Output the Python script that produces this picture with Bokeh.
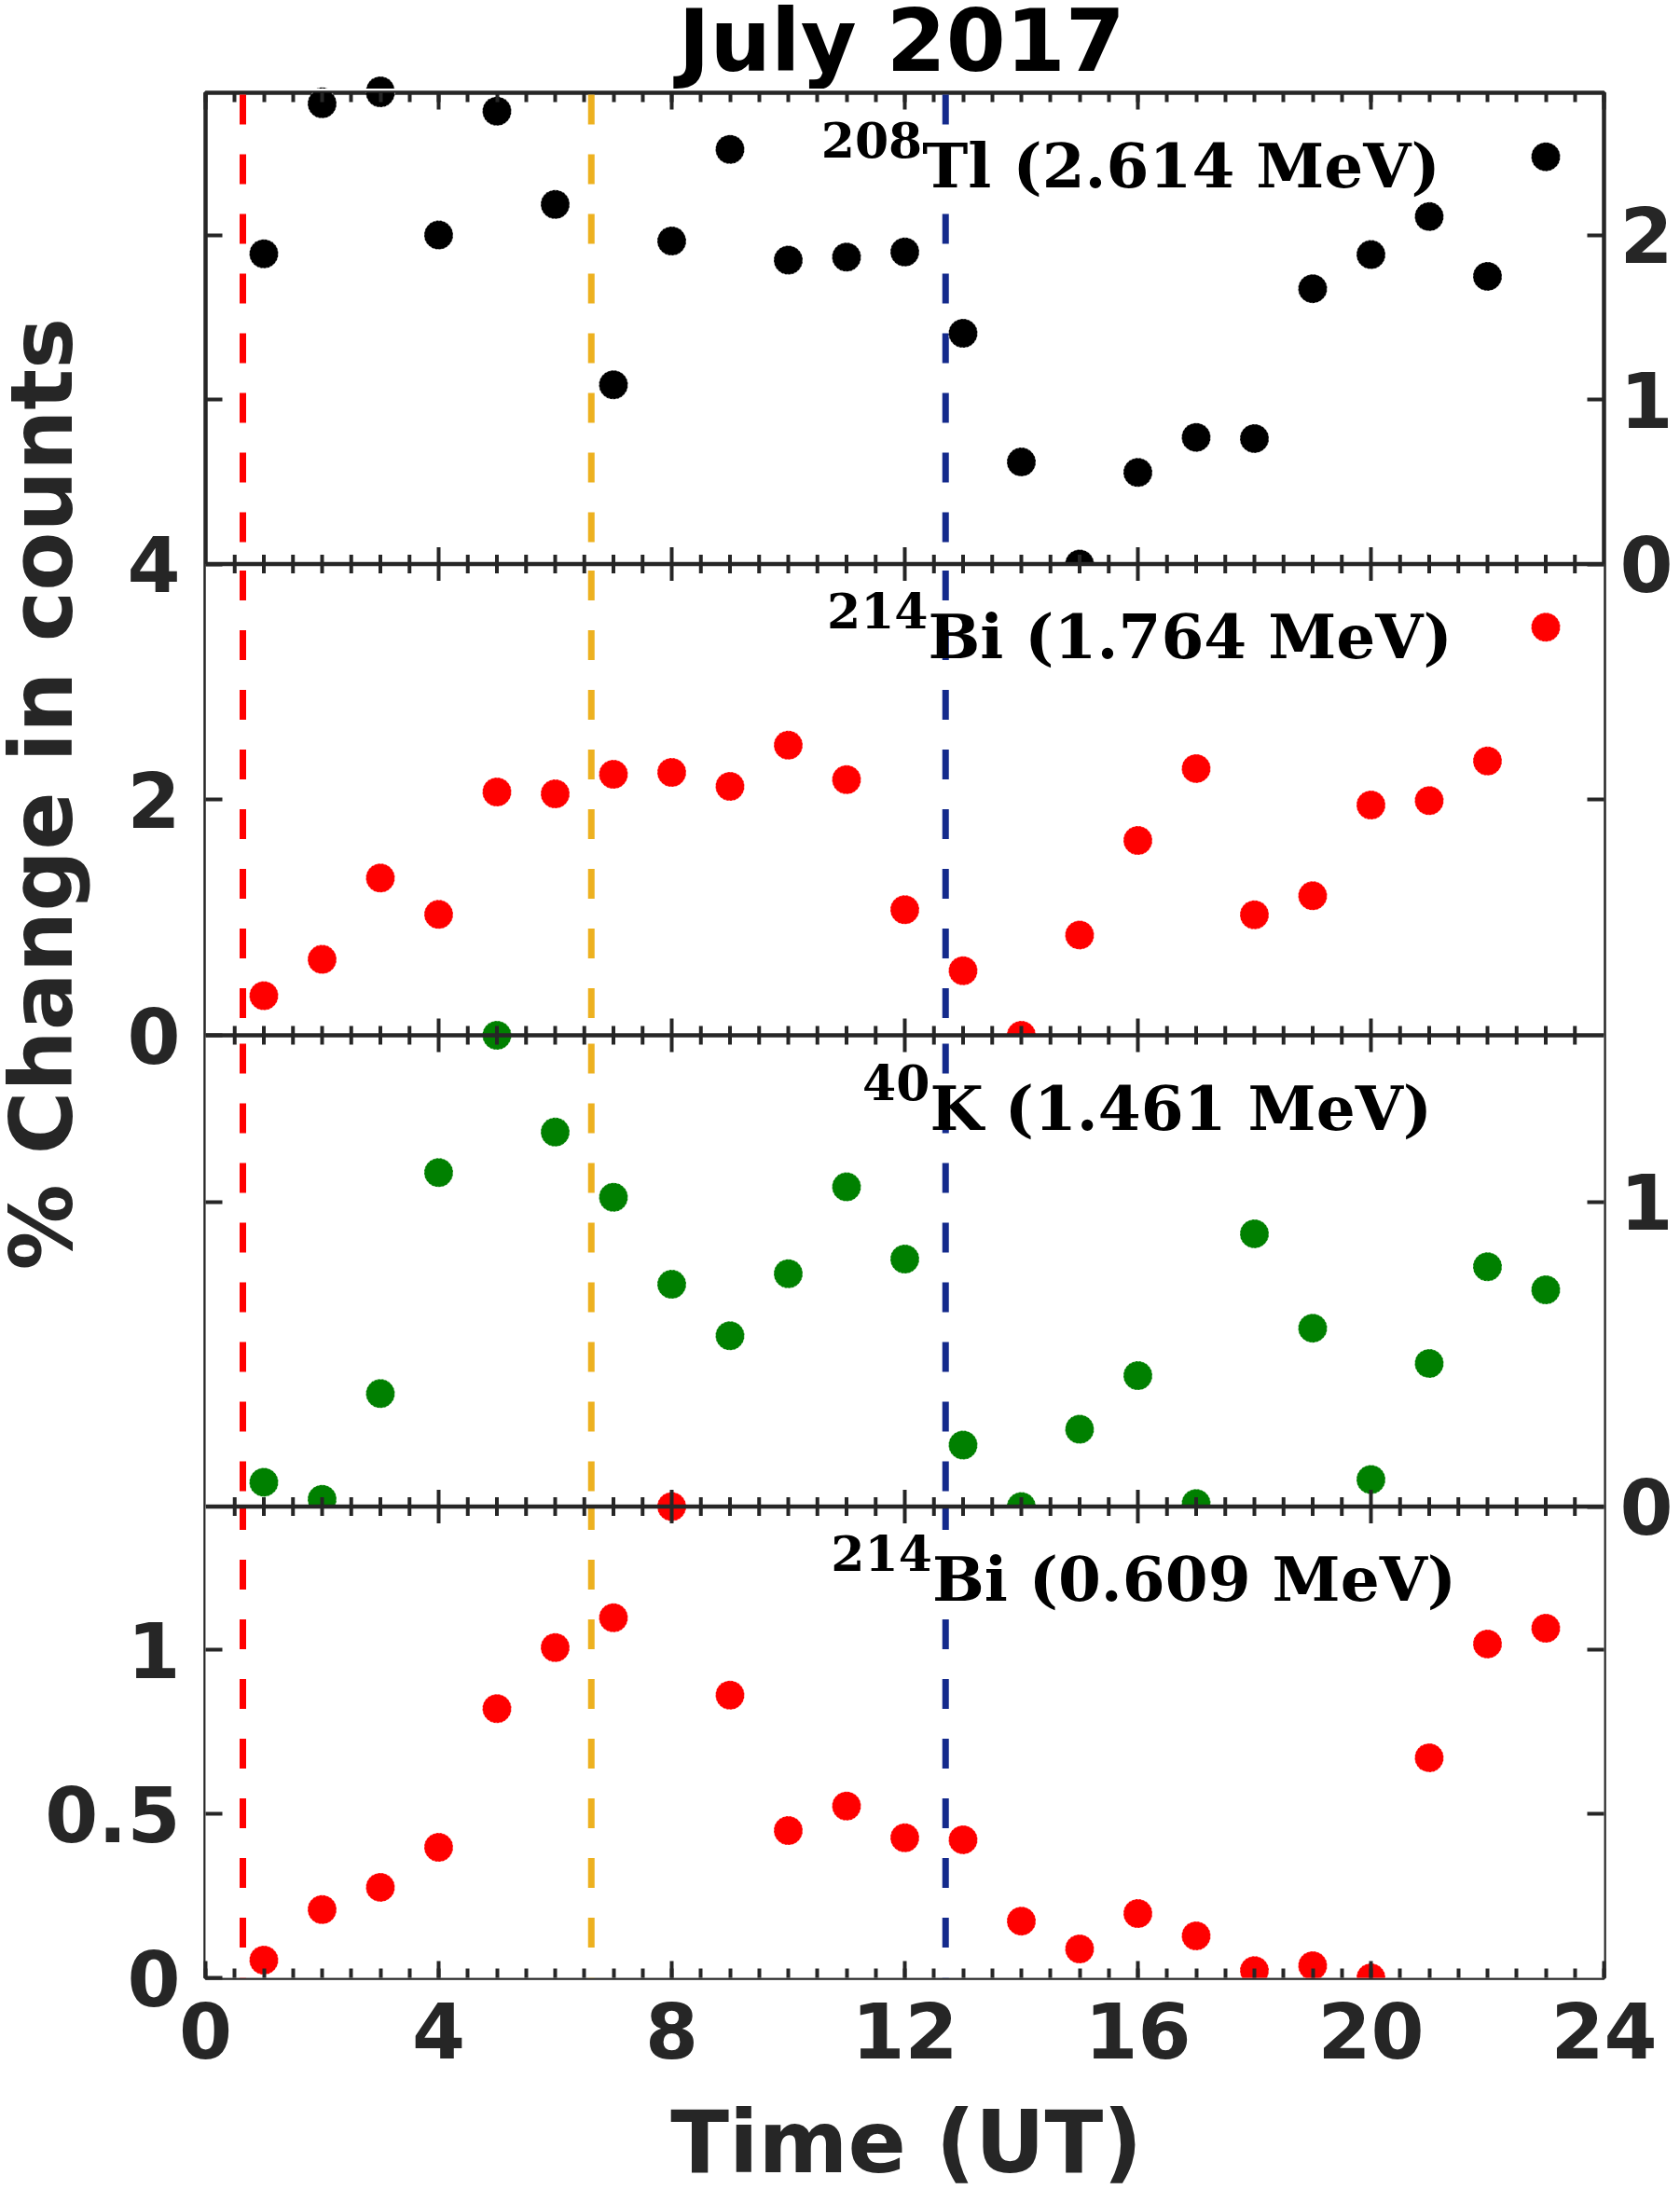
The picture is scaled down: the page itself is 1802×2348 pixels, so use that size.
import numpy as np
from bokeh.plotting import figure
from bokeh.layouts import column
from bokeh.models import (Range1d, LinearAxis, FixedTicker, SingleIntervalTicker,
                          CustomJSTickFormatter, CustomLabelingPolicy, Span, Label, Title)
from bokeh.embed import file_html
from bokeh.resources import INLINE

# ---------------- data ----------------
hours = list(range(1, 24))

tl_2614 = [1.886, 2.798, 2.865, 2.000, 2.753, 2.186, 1.090, 1.964, 2.521, 1.848, 1.866, 1.897,
           1.403, 0.620, 0.000, 0.557, 0.770, 0.763, 1.674, 1.881, 2.112, 1.749, 2.476]
bi_1764 = [0.336, 0.644, 1.335, 1.026, 2.065, 2.049, 2.215, 2.231, 2.113, 2.462, 2.170, 1.066,
           0.548, 0.000, 0.851, 1.654, 2.264, 1.023, 1.184, 1.955, 1.992, 2.328, 3.464]
k_1461 = [0.080, 0.024, 0.371, 1.097, 1.548, 1.230, 1.016, 0.730, 0.561, 0.765, 1.050, 0.813,
          0.202, 0.000, 0.254, 0.430, 0.010, 0.896, 0.586, 0.089, 0.470, 0.788, 0.712]
bi_0609 = [0.054, 0.208, 0.276, 0.398, 0.821, 1.007, 1.098, 1.437, 0.862, 0.449, 0.524, 0.427,
           0.421, 0.173, 0.088, 0.196, 0.128, 0.022, 0.037, 0.000, 0.671, 1.018, 1.066]

panel_values = [tl_2614, bi_1764, k_1461, bi_0609]
panel_colors = ["#000000", "#ff0000", "#008000", "#ff0000"]
panel_ylims = [(0, 2.865), (0, 4), (0, 1.548), (0, 1.437)]
panel_yticks = [[0, 1, 2], [0, 2, 4], [0, 1], [0, 0.5, 1]]
panel_label_side = ["right", "left", "right", "left"]
panel_isotope = ["208", "214", "40", "214"]
panel_line = ["Tl (2.614 MeV)", "Bi (1.764 MeV)", "K (1.461 MeV)", "Bi (0.609 MeV)"]
panel_text_x = [12.30, 12.40, 12.43, 12.47]

event_times = [0.64, 6.62, 12.70]
event_colors = ["#ff0000", "#edb120", "#142a8c"]
event_dash_offsets = [62, 57, 55, 7]

x_start, x_end = 0, 24
x_tick_interval = 4
x_minor_per_major = 8
title_text = "July 2017"
x_label = "Time (UT)"
y_label = "% Change in counts"

# ---------------- layout constants ----------------
AXC = "#262626"
W = 1802
FRAME_L, FRAME_R = 220, 82
FRAME_H = 2024
TITLE_H = 95
MAIN_TOP, MAIN_BOTTOM = 2, 130
XLAB_H = 95
n = len(panel_values)

MARKER = dict(size=31, marker="circle", line_color="white", line_alpha=0.5,
              line_width=1.2, line_dash="2 2")


def blank_fig(h):
    f = figure(width=W, height=h, x_range=Range1d(x_start, x_end), y_range=Range1d(0, h),
               output_backend="svg", toolbar_location=None, tools="", title=None,
               x_axis_location=None, y_axis_location=None,
               min_border_left=FRAME_L, min_border_right=FRAME_R,
               min_border_top=0, min_border_bottom=0,
               background_fill_color="white", border_fill_color="white")
    f.grid.visible = False
    f.outline_line_color = None
    return f


# ---------------- title figure ----------------
tf = blank_fig(TITLE_H)
# continuation of the top panel's scale above its frame (markers sitting on the top edge)
a0, b0 = panel_ylims[0]
ppu0 = FRAME_H / n / (b0 - a0)
tf.extra_y_ranges["top"] = Range1d(start=b0 + MAIN_TOP / ppu0, end=b0 + (MAIN_TOP + TITLE_H) / ppu0)
tf.scatter(x=hours, y=panel_values[0], y_range_name="top", fill_color=panel_colors[0], **MARKER)
tf.add_layout(Label(x=8.11, y=51, text=title_text, text_font="DejaVu Sans",
                    text_font_style="bold", text_font_size="92px", text_color="black",
                    text_align="left", text_baseline="alphabetic"))

# ---------------- main figure ----------------
p = figure(width=W, height=MAIN_TOP + FRAME_H + MAIN_BOTTOM,
           x_range=Range1d(x_start, x_end), y_range=Range1d(0, n),
           output_backend="svg", toolbar_location=None, tools="", title=None,
           min_border_left=FRAME_L, min_border_right=FRAME_R,
           min_border_top=MAIN_TOP, min_border_bottom=MAIN_BOTTOM,
           background_fill_color="white", border_fill_color="white")
p.grid.visible = False
p.outline_line_color = AXC
p.outline_line_width = 4.5

for i, (a, b) in enumerate(panel_ylims):
    s = b - a
    k = n - 1 - i
    p.extra_y_ranges[f"p{i}"] = Range1d(start=a - k * s, end=a + (n - k) * s)

# tick positions / labels on the stacked scale
side_ticks = {"left": [], "right": []}
for i, ((a, b), ticks, side) in enumerate(zip(panel_ylims, panel_yticks, panel_label_side)):
    s = b - a
    k = n - 1 - i
    for v in ticks:
        pos = k + (v - a) / s
        for sd in ("left", "right"):
            if sd == side:
                side_ticks[sd].append((pos, f"{v:g}"))
            elif v not in (a, b):
                side_ticks[sd].append((pos, ""))
for sd in side_ticks:
    side_ticks[sd].sort()


def make_fmt(pos, lab):
    return CustomJSTickFormatter(args=dict(pos=pos, lab=lab), code="""
        for (let i = 0; i < pos.length; i++) {
            if (Math.abs(pos[i] - tick) < 1e-6) { return lab[i]; }
        }
        return "";
    """)


def keep_policy(keep):
    return CustomLabelingPolicy(args=dict(keep=keep), code="""
        for (const i of indices) {
            if (!keep.includes(i)) { indices.unset(i) }
        }
        return indices
    """)


def style_axis(ax, size, standoff):
    ax.axis_line_color = None
    ax.major_tick_in = 18
    ax.major_tick_out = 0
    ax.minor_tick_in = 10
    ax.minor_tick_out = 0
    ax.major_tick_line_color = AXC
    ax.minor_tick_line_color = AXC
    ax.major_tick_line_width = 4
    ax.minor_tick_line_width = 4
    ax.major_label_text_font = "DejaVu Sans"
    ax.major_label_text_font_style = "bold"
    ax.major_label_text_color = AXC
    ax.major_label_text_font_size = size
    ax.major_label_standoff = standoff


xb = p.xaxis[0]
xb.ticker = SingleIntervalTicker(interval=x_tick_interval, num_minor_ticks=x_minor_per_major)
style_axis(xb, "82px", 26)

xt = LinearAxis(ticker=SingleIntervalTicker(interval=x_tick_interval, num_minor_ticks=x_minor_per_major))
style_axis(xt, "1px", 0)
xt.major_label_policy = keep_policy([])
p.add_layout(xt, "above")


def setup_y(ax, sd, standoff):
    pos = [t[0] for t in side_ticks[sd]]
    lab = [t[1] for t in side_ticks[sd]]
    ax.ticker = FixedTicker(ticks=pos, minor_ticks=[])
    ax.formatter = make_fmt(pos, lab)
    ax.major_label_policy = keep_policy([j for j, l in enumerate(lab) if l != ""])
    style_axis(ax, "82px", standoff)


yl = p.yaxis[0]
setup_y(yl, "left", 27)
yr = LinearAxis()
setup_y(yr, "right", 17)
p.add_layout(yr, "right")

# y-axis title, placed along panel 2
p.add_layout(Title(text=y_label, align="left", offset=759, standoff=-106, vertical_align="bottom",
                   text_font="DejaVu Sans", text_font_style="bold", text_font_size="92px",
                   text_color=AXC), "left")

# panels drawn top to bottom; each lower panel has its own white background
for i, ((a, b), vals, col) in enumerate(zip(panel_ylims, panel_values, panel_colors)):
    k = n - 1 - i
    if i > 0:
        p.quad(left=x_start, right=x_end, bottom=0, top=k + 1,
               fill_color="white", line_color=None)
    m = len(event_times)
    p.segment(x0=event_times, y0=[b] * m, x1=event_times, y1=[a] * m,
              line_color=event_colors, line_width=7, line_dash="32 32",
              line_dash_offset=event_dash_offsets[i], y_range_name=f"p{i}")
    p.scatter(x=hours, y=vals, y_range_name=f"p{i}", fill_color=col, **MARKER)

# internal panel boundaries with two-sided ticks
bounds = list(range(1, n))
for bnd in bounds:
    p.add_layout(Span(location=bnd, dimension="width", line_color=AXC, line_width=4.5))
major_x = [float(v) for v in np.arange(x_start + x_tick_interval, x_end, x_tick_interval)]
step = x_tick_interval / x_minor_per_major
minor_x = [float(v) for v in np.arange(x_start + step, x_end, step)
           if abs(v / x_tick_interval - round(v / x_tick_interval)) > 1e-9]
p.scatter(x=[v for bnd in bounds for v in major_x], y=[bnd for bnd in bounds for v in major_x],
          marker="dash", angle=np.pi / 2, size=36, line_color=AXC, line_width=4)
p.scatter(x=[v for bnd in bounds for v in minor_x], y=[bnd for bnd in bounds for v in minor_x],
          marker="dash", angle=np.pi / 2, size=20, line_color=AXC, line_width=4)

# panel annotations
for i in range(n):
    top = n - i
    p.add_layout(Label(x=panel_text_x[i], y=top, y_offset=-50, text=panel_isotope[i],
                       text_font="DejaVu Serif", text_font_style="bold", text_font_size="52px",
                       text_color="black", text_align="right", text_baseline="alphabetic"))
    p.add_layout(Label(x=panel_text_x[i], y=top, y_offset=-78, text=panel_line[i],
                       text_font="DejaVu Serif", text_font_style="bold", text_font_size="66px",
                       text_color="black", text_align="left", text_baseline="alphabetic"))

# ---------------- x label figure ----------------
xf = blank_fig(XLAB_H)
xf.add_layout(Label(x=7.98, y=48, text=x_label, text_font="DejaVu Sans",
                    text_font_style="bold", text_font_size="92px", text_color=AXC,
                    text_align="left", text_baseline="alphabetic"))

layout = column(tf, p, xf, spacing=0)
open("out.html", "w").write(file_html(layout, INLINE))
